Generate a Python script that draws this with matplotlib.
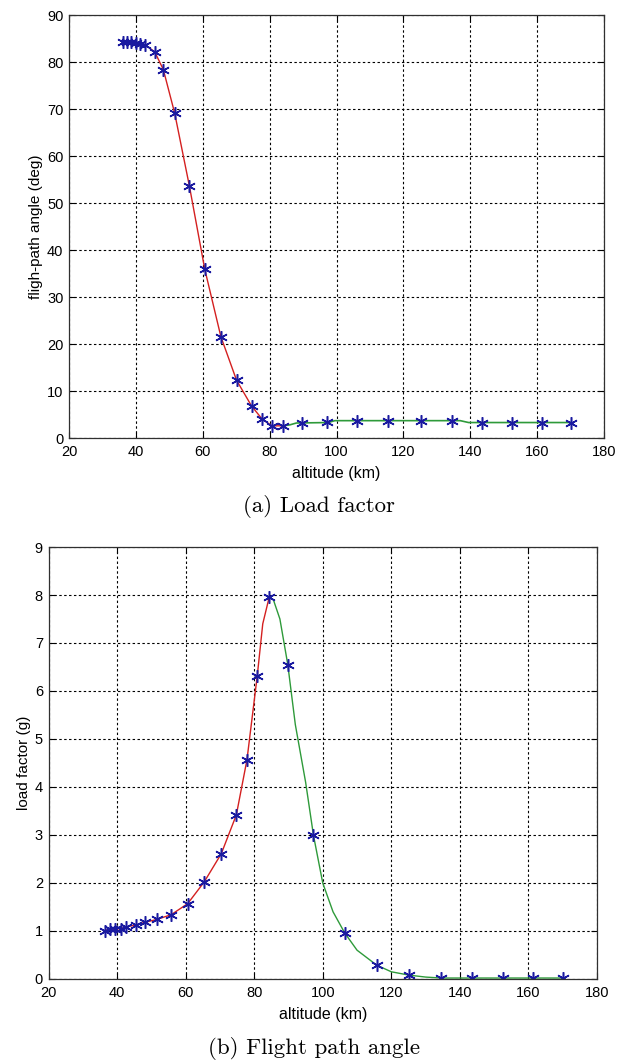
import matplotlib
matplotlib.use("Agg")
import matplotlib.pyplot as plt

# (a) flight-path angle vs altitude
fpa_red_alt = [36.0, 37.3, 38.6, 40.0, 41.3, 42.8, 45.6, 48.2, 51.6, 56.0, 60.6, 65.4, 70.1, 74.6, 77.8, 80.7, 84.0]
fpa_red_deg = [84.2, 84.2, 84.2, 84.1, 83.9, 83.6, 82.2, 78.4, 69.1, 53.6, 35.9, 21.6, 12.3, 6.8, 4.0, 2.6, 2.6]
fpa_green_alt = [84.0, 86.0, 88.0, 97.5, 99.5, 137.0, 139.5, 170.0]
fpa_green_deg = [2.6, 2.8, 3.2, 3.3, 3.7, 3.7, 3.3, 3.3]
fpa_mark_alt = [36.0, 37.3, 38.6, 40.0, 41.3, 42.8, 45.6, 48.2, 51.6, 56.0, 60.6, 65.4, 70.1, 74.6, 77.8,
                80.7, 84.0, 89.7, 97.1, 106.2, 115.5, 125.2, 134.4, 143.5, 152.4, 161.3, 170.0]
fpa_mark_deg = [84.2, 84.2, 84.2, 84.1, 83.9, 83.6, 82.2, 78.4, 69.1, 53.6, 35.9, 21.6, 12.3, 6.8, 4.0,
                2.6, 2.6, 3.3, 3.4, 3.7, 3.7, 3.7, 3.7, 3.3, 3.3, 3.3, 3.3]

# (b) load factor vs altitude
lf_red_alt = [36.4, 37.9, 39.3, 41.0, 42.5, 45.6, 48.1, 51.6, 55.8, 60.6, 65.4, 70.4, 74.8, 77.9, 80.9, 82.5, 84.4]
lf_red_g = [1.01, 1.04, 1.04, 1.05, 1.08, 1.13, 1.18, 1.24, 1.34, 1.57, 2.02, 2.61, 3.42, 4.57, 6.32, 7.4, 7.96]
lf_green_alt = [84.4, 85.6, 87.5, 89.8, 92.0, 95.0, 97.3, 100.0, 103.0, 106.4, 110.0, 115.7, 120.0, 125.2,
                130.0, 134.5, 170.0]
lf_green_g = [7.96, 7.9, 7.5, 6.55, 5.3, 4.1, 2.99, 2.0, 1.4, 0.96, 0.6, 0.29, 0.15, 0.08, 0.04, 0.02, 0.02]
lf_mark_alt = [36.4, 37.9, 39.3, 41.0, 42.5, 45.6, 48.1, 51.6, 55.8, 60.6, 65.4, 70.4, 74.8, 77.9, 80.9,
               84.4, 89.8, 97.3, 106.4, 115.7, 125.2, 134.5, 143.6, 152.5, 161.3, 170.0]
lf_mark_g = [1.01, 1.04, 1.04, 1.05, 1.08, 1.13, 1.18, 1.24, 1.34, 1.57, 2.02, 2.61, 3.42, 4.57, 6.32,
             7.96, 6.55, 2.99, 0.96, 0.29, 0.08, 0.02, 0.02, 0.02, 0.02, 0.02]

x_ticks = [20, 40, 60, 80, 100, 120, 140, 160, 180]

plt.rcParams['font.family'] = ['Liberation Sans', 'DejaVu Sans']
plt.rcParams['font.size'] = 10.5

RED = '#d42020'
GREEN = '#2e9a3a'
BLUE = '#1a1aa0'
ASTERISK = (6, 2, 0)  # matlab '*' marker


def style_axes(ax, ylim, yticks, ylabel):
    """
    matlab like axes: box, dotted grid, inward ticks
    """
    ax.set_xlim(20, 180)
    ax.set_ylim(*ylim)
    ax.set_xticks(x_ticks)
    ax.set_yticks(yticks)
    ax.grid(True, color='black', linestyle=(0, (2.2, 2.2)), linewidth=0.8)
    ax.tick_params(direction='in', length=4, width=0.8, top=True, right=True, labelsize=10.5)
    ax.tick_params(axis='x', pad=5)
    ax.tick_params(axis='y', pad=4)
    for sp in ax.spines.values():
        sp.set_linewidth(0.9)
        sp.set_color('#303030')
    ax.set_xlabel('altitude (km)', fontsize=11.5, labelpad=5)
    ax.set_ylabel(ylabel, fontsize=11, labelpad=3)


fig = plt.figure(figsize=(6.18, 10.64), dpi=100)

ax1 = fig.add_axes([0.1117, 0.5883, 0.8657, 0.3976])
ax1.plot(fpa_red_alt, fpa_red_deg, color=RED, lw=1.0)
ax1.plot(fpa_green_alt, fpa_green_deg, color=GREEN, lw=1.2)
ax1.plot(fpa_mark_alt, fpa_mark_deg, marker=ASTERISK, ls='none', color=BLUE, ms=9, mew=1.1)
style_axes(ax1, (0, 90), range(0, 91, 10), 'fligh-path angle (deg)')

ax2 = fig.add_axes([0.0785, 0.0799, 0.8875, 0.406])
ax2.plot(lf_red_alt, lf_red_g, color=RED, lw=1.0)
ax2.plot(lf_green_alt, lf_green_g, color=GREEN, lw=1.0)
ax2.plot(lf_mark_alt, lf_mark_g, marker=ASTERISK, ls='none', color=BLUE, ms=9, mew=1.1)
style_axes(ax2, (0, 9), range(0, 10), 'load factor (g)')

fig.text(0.516, 0.5235, '(a) Load factor', family='cmr10', fontsize=16.5, ha='center', va='center')
fig.text(0.508, 0.015, '(b) Flight path angle', family='cmr10', fontsize=16.5, ha='center', va='center')

fig.savefig('out.png', dpi=100)
